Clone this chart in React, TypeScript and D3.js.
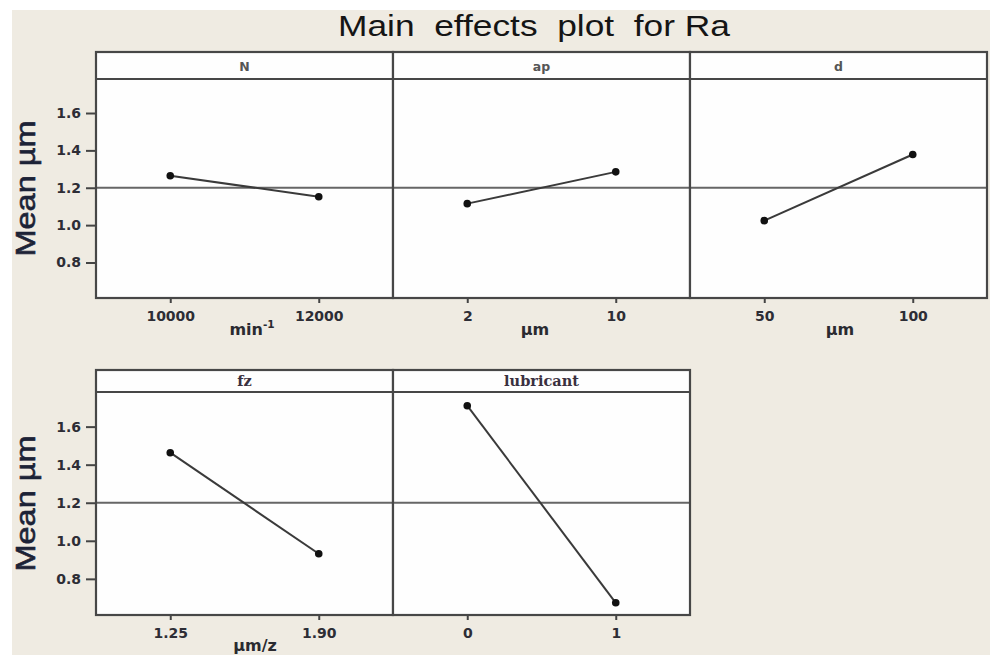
import React, { useEffect, useRef } from "react";
import * as d3 from "d3";

// main effects of each factor on Ra (mean of means, µm)
const factors = ["N", "ap", "d", "fz", "lubricant"];
const levels = [
  ["10000", "12000"],
  ["2", "10"],
  ["50", "100"],
  ["1.25", "1.90"],
  ["0", "1"],
];
const means = [
  [1.264, 1.152],
  [1.115, 1.285],
  [1.024, 1.378],
  [1.463, 0.932],
  [1.71, 0.674],
];
const units = ["min", "µm", "µm", "µm/z", ""];
const grandMean = 1.2;
const yTicks = [0.8, 1.0, 1.2, 1.4, 1.6];

const W = 990;
const H = 655;

const App = () => {
  const ref = useRef<SVGSVGElement | null>(null);

  useEffect(() => {
    const svg = d3.select(ref.current);
    svg.selectAll("*").remove();

    svg.append("rect").attr("width", W).attr("height", H).attr("fill", "#ffffff");
    svg
      .append("rect")
      .attr("x", 12)
      .attr("y", 10)
      .attr("width", W - 12)
      .attr("height", H - 10)
      .attr("fill", "#efebe2");

    svg
      .append("text")
      .attr("x", 338)
      .attr("y", 36)
      .attr("textLength", 392)
      .attr("lengthAdjust", "spacingAndGlyphs")
      .style("white-space", "pre")
      .attr("font-family", "Liberation Sans, Arial, sans-serif")
      .attr("font-size", 29)
      .attr("fill", "#151515")
      .text("Main  effects  plot  for Ra");

    const rows = [
      { top: 52, head: 27, bottom: 298, unitY: 335 },
      { top: 370, head: 22, bottom: 615, unitY: 651 },
    ];
    const x0 = 96;
    const pw = 297;
    const unitOffset = [156, 142, 150, 159, 0];

    const tickStyle = (a: any) => {
      a.select(".domain").remove();
      a.selectAll("line").attr("stroke", "#444").attr("stroke-width", 2);
      a.selectAll("text")
        .attr("font-family", "DejaVu Sans, Verdana, sans-serif")
        .attr("font-weight", "bold")
        .attr("font-size", 14)
        .attr("fill", "#2d2d35");
    };

    factors.forEach((f, i) => {
      const r = rows[i < 3 ? 0 : 1];
      const left = x0 + (i % 3) * pw;
      const plotTop = r.top + r.head;
      const y = d3.scaleLinear().domain([0.61, 1.782]).range([r.bottom, plotTop]);
      const x = d3
        .scalePoint()
        .domain(levels[i])
        .range([left, left + pw])
        .padding(0.5);

      const g = svg.append("g");

      g.append("rect")
        .attr("x", left)
        .attr("y", r.top)
        .attr("width", pw)
        .attr("height", r.bottom - r.top)
        .attr("fill", "#fefefe");

      // x axis ticks
      g.append("g")
        .attr("transform", "translate(0," + r.bottom + ")")
        .call(d3.axisBottom(x).tickSize(5).tickPadding(8))
        .call(tickStyle);

      // y axis only on first column
      if (i % 3 === 0) {
        g.append("g")
          .attr("transform", "translate(" + left + ",0)")
          .call(
            d3
              .axisLeft(y)
              .tickValues(yTicks)
              .tickFormat(d3.format(".1f"))
              .tickSize(10)
              .tickPadding(5)
          )
          .call(tickStyle);

        svg
          .append("text")
          .attr("transform", "translate(35," + (plotTop + r.bottom) / 2 + ") rotate(-90)")
          .attr("text-anchor", "middle")
          .attr("font-family", "Liberation Sans, Arial, sans-serif")
          .attr("font-size", 28)
          .attr("stroke", "#1c2236")
          .attr("stroke-width", 0.6)
          .attr("fill", "#1c2236")
          .attr("textLength", 136)
          .attr("lengthAdjust", "spacingAndGlyphs")
          .text("Mean µm");
      }

      // reference line at the overall mean
      g.append("line")
        .attr("x1", left)
        .attr("x2", left + pw)
        .attr("y1", y(grandMean))
        .attr("y2", y(grandMean))
        .attr("stroke", "#666")
        .attr("stroke-width", 1.8);

      const pts = levels[i].map((l, j) => ({ l, v: means[i][j] }));

      g.append("path")
        .datum(pts)
        .attr("fill", "none")
        .attr("stroke", "#3a3a3a")
        .attr("stroke-width", 2)
        .attr(
          "d",
          d3
            .line<{ l: string; v: number }>()
            .x((d) => x(d.l) as number)
            .y((d) => y(d.v))
        );

      g.selectAll("circle")
        .data(pts)
        .enter()
        .append("circle")
        .attr("cx", (d) => x(d.l) as number)
        .attr("cy", (d) => y(d.v))
        .attr("r", 3.8)
        .attr("fill", "#111");

      // frame and header strip
      g.append("rect")
        .attr("x", left)
        .attr("y", r.top)
        .attr("width", pw)
        .attr("height", r.bottom - r.top)
        .attr("fill", "none")
        .attr("stroke", "#474747")
        .attr("stroke-width", 2.2);
      g.append("line")
        .attr("x1", left)
        .attr("x2", left + pw)
        .attr("y1", plotTop)
        .attr("y2", plotTop)
        .attr("stroke", "#474747")
        .attr("stroke-width", 2.2);

      const serif = i >= 3;
      g.append("text")
        .attr("x", left + pw / 2)
        .attr("y", r.top + r.head / 2 + 5)
        .attr("text-anchor", "middle")
        .attr(
          "font-family",
          serif ? "DejaVu Serif, Liberation Serif, serif" : "DejaVu Sans, Verdana, sans-serif"
        )
        .attr("font-weight", "bold")
        .attr("font-size", serif ? 14.5 : 12.5)
        .attr("fill", serif ? "#3a3040" : "#555")
        .text(f);

      if (units[i]) {
        const t = g
          .append("text")
          .attr("x", left + unitOffset[i])
          .attr("y", r.unitY)
          .attr("text-anchor", "middle")
          .attr("font-family", "DejaVu Sans, Verdana, sans-serif")
          .attr("font-weight", "bold")
          .attr("font-size", 16)
          .attr("fill", "#2a2a30")
          .text(units[i]);
        if (i === 0) {
          t.append("tspan").attr("dy", -7).attr("font-size", 10.5).text("-1");
        }
      }
    });
  }, []);

  return (
    <svg
      ref={ref}
      width={W}
      height={H}
      style={{ position: "absolute", left: 0, top: 0 }}
    ></svg>
  );
};

export default App;
